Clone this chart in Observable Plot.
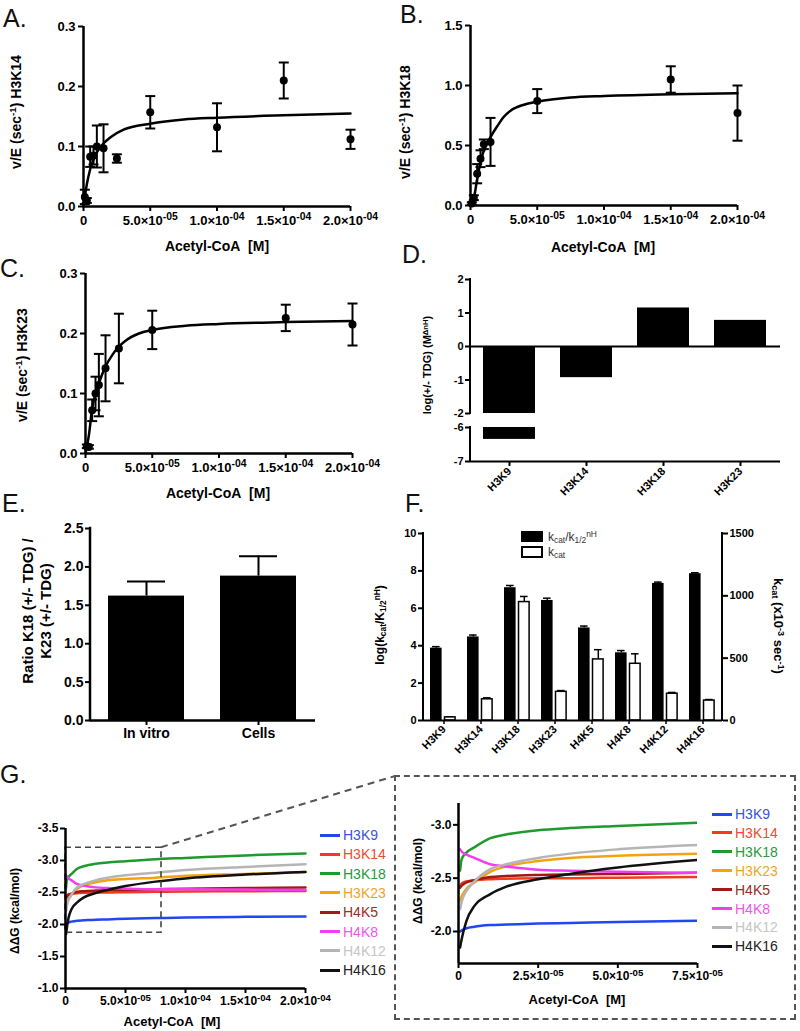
<!DOCTYPE html>
<html><head><meta charset="utf-8">
<script src="https://cdn.jsdelivr.net/npm/d3@7"></script>
<script src="https://cdn.jsdelivr.net/npm/@observablehq/plot@0.6"></script>
<style>
body{margin:0;background:#fff;font-family:'Liberation Sans',Arial,sans-serif;}
#root{position:relative;width:800px;height:1031px;overflow:hidden;background:#fff;}
.lbl{position:absolute;white-space:nowrap;font-weight:bold;color:#000;line-height:1.2;}
.lbl sup{font-size:0.7em;vertical-align:0.5em;line-height:0;}
.lbl sub{font-size:0.7em;vertical-align:-0.25em;line-height:0;}
.let{position:absolute;font-size:25px;line-height:25px;color:#111;font-weight:normal;}
</style></head><body><div id="root"></div>
<script>
// ---------- DATA ----------
// Panel A: H3K14
const aX = [1e-6, 2.5e-6, 5e-6, 7.5e-6, 1e-5, 1.5e-5, 2.5e-5, 5e-5, 1e-4, 1.5e-4, 2e-4];
const aV = [0.016, 0.01, 0.083, 0.085, 0.1, 0.097, 0.08, 0.157, 0.132, 0.21, 0.112];
const aE = [0.012, 0.004, 0.017, 0.015, 0.035, 0.04, 0.007, 0.027, 0.04, 0.03, 0.016];
const aFitX = [0, 2.5e-6, 5e-6, 1e-5, 1.5e-5, 2e-5, 3e-5, 5e-5, 7.5e-5, 1e-4, 1.5e-4, 2e-4];
const aFitV = [0, 0.037, 0.062, 0.09, 0.105, 0.115, 0.128, 0.138, 0.145, 0.148, 0.152, 0.155];
// Panel B: H3K18
const bX = [1e-6, 2.5e-6, 5e-6, 7.5e-6, 1e-5, 1.5e-5, 5e-5, 1.5e-4, 2e-4];
const bV = [0.017, 0.065, 0.265, 0.39, 0.51, 0.53, 0.87, 1.05, 0.77];
const bE = [0.01, 0.02, 0.08, 0.07, 0.04, 0.2, 0.1, 0.11, 0.23];
const bFitX = [0, 2.5e-6, 5e-6, 7.5e-6, 1e-5, 1.5e-5, 2e-5, 2.5e-5, 3e-5, 4e-5, 5e-5, 7.5e-5, 1e-4, 1.5e-4, 2e-4];
const bFitV = [0, 0.06, 0.22, 0.36, 0.46, 0.57, 0.66, 0.74, 0.79, 0.84, 0.865, 0.9, 0.913, 0.928, 0.935];
// Panel C: H3K23
const cX = [1e-6, 2.5e-6, 5e-6, 7.5e-6, 1e-5, 1.5e-5, 2.5e-5, 5e-5, 1.5e-4, 2e-4];
const cV = [0.012, 0.011, 0.072, 0.1, 0.114, 0.142, 0.175, 0.206, 0.226, 0.215];
const cE = [0.003, 0.003, 0.018, 0.028, 0.052, 0.055, 0.058, 0.032, 0.022, 0.035];
const cFitX = [0, 2.5e-6, 5e-6, 7.5e-6, 1e-5, 1.5e-5, 2e-5, 2.5e-5, 3e-5, 4e-5, 5e-5, 7.5e-5, 1e-4, 1.5e-4, 2e-4];
const cFitV = [0, 0.03, 0.075, 0.1, 0.117, 0.145, 0.164, 0.178, 0.188, 0.2, 0.206, 0.213, 0.216, 0.219, 0.221];
// Panel D
const dCats = ["H3K9", "H3K14", "H3K18", "H3K23"];
const dVals = [-6.35, -0.93, 1.15, 0.78];
// Panel E
const eCats = ["In vitro", "Cells"];
const eVals = [1.62, 1.88];
const eErr = [0.19, 0.26];
// Panel F
const fCats = ["H3K9", "H3K14", "H3K18", "H3K23", "H4K5", "H4K8", "H4K12", "H4K16"];
const fLogK = [3.87, 4.47, 7.1, 6.42, 4.95, 3.62, 7.33, 7.85];
const fLogKErr = [0.08, 0.1, 0.12, 0.12, 0.1, 0.12, 0.07, 0.05];
const fKcat = [25, 170, 950, 230, 490, 455, 215, 160];
const fKcatErr = [5, 12, 45, 10, 78, 80, 10, 8];
// Panel G
const gX = [5e-7, 1e-6, 2.5e-6, 5e-6, 1e-5, 1.5e-5, 2.5e-5, 3.5e-5, 5e-5, 7.5e-5, 1e-4, 1.5e-4, 2e-4];
const gNames = ["H3K9", "H3K14", "H3K18", "H3K23", "H4K5", "H4K8", "H4K12", "H4K16"];
const gColors = ["#2146f2", "#f23b1e", "#1f9a2f", "#f3a30e", "#a01a16", "#f23ef0", "#b5b5b5", "#111111"];
const gTextColors = ["#3b50e6", "#ef4a33", "#2a9a3a", "#f0a522", "#9c2c27", "#f055ee", "#c6c6c6", "#222222"];
const gH3K9  = [-2.0, -2.01, -2.03, -2.045, -2.06, -2.065, -2.075, -2.08, -2.09, -2.1, -2.11, -2.12, -2.125];
const gH3K14 = [-2.43, -2.45, -2.47, -2.48, -2.49, -2.495, -2.5, -2.5, -2.505, -2.51, -2.515, -2.52, -2.525];
const gH3K18 = [-2.57, -2.68, -2.74, -2.79, -2.875, -2.91, -2.95, -2.97, -2.99, -3.02, -3.04, -3.08, -3.11];
const gH3K23 = [-2.29, -2.33, -2.4, -2.46, -2.56, -2.61, -2.66, -2.69, -2.71, -2.73, -2.76, -2.79, -2.82];
const gH4K5  = [-2.41, -2.43, -2.46, -2.48, -2.51, -2.52, -2.53, -2.535, -2.54, -2.55, -2.56, -2.57, -2.58];
const gH4K8  = [-2.77, -2.75, -2.72, -2.69, -2.63, -2.61, -2.58, -2.57, -2.56, -2.55, -2.55, -2.545, -2.54];
const gH4K12 = [-2.21, -2.28, -2.38, -2.47, -2.585, -2.63, -2.69, -2.73, -2.77, -2.81, -2.85, -2.9, -2.94];
const gH4K16 = [-1.85, -1.93, -2.1, -2.24, -2.35, -2.42, -2.49, -2.54, -2.6, -2.67, -2.72, -2.78, -2.82];
const gSeries = [gH3K9, gH3K14, gH3K18, gH3K23, gH4K5, gH4K8, gH4K12, gH4K16];
const gZoom = [{x1: 0, x2: 8e-5, y1: -1.87, y2: -3.2}];

// ---------- HELPERS ----------
const root = document.getElementById("root");
const NS = "http://www.w3.org/2000/svg";
const base = {fontFamily: "'Liberation Sans', Arial, sans-serif", fontSize: "12px", fontWeight: "bold", background: "transparent", overflow: "visible", color: "black"};
function put(node, left, top) { node.style.position = "absolute"; node.style.left = left + "px"; node.style.top = top + "px"; node.style.maxWidth = "none"; root.append(node); return node; }
function sci(d) { if (d === 0) return "0"; const e = Math.floor(Math.log10(d) + 1e-9); const m = d / Math.pow(10, e); return m.toFixed(1) + "×10^" + (e < 0 ? "-" : "+") + String(Math.abs(e)).padStart(2, "0"); }
function supify(svg) {
  svg.querySelectorAll("text").forEach(t => {
    const s = t.textContent; const i = s.indexOf("^"); if (i < 0) return;
    t.textContent = "";
    const a = document.createElementNS(NS, "tspan"); a.textContent = s.slice(0, i);
    const b = document.createElementNS(NS, "tspan"); b.textContent = s.slice(i + 1);
    b.setAttribute("dy", "-0.45em"); b.setAttribute("font-size", "0.8em");
    t.append(a, b);
  });
}
function seg(svg, x1, y1, x2, y2, w) {
  const l = document.createElementNS(NS, "line");
  l.setAttribute("x1", x1); l.setAttribute("y1", y1); l.setAttribute("x2", x2); l.setAttribute("y2", y2);
  l.setAttribute("stroke", "black"); l.setAttribute("stroke-width", w); l.setAttribute("stroke-linecap", "square");
  svg.append(l);
}
function label(html, cx, cy, size, rot = 0, extra = "") {
  const d = document.createElement("div"); d.className = "lbl"; d.innerHTML = html;
  d.style.cssText += `left:${cx}px;top:${cy}px;font-size:${size}px;transform:translate(-50%,-50%) rotate(${rot}deg);${extra}`;
  root.append(d); return d;
}
function letter(t, x, baseline) { const d = document.createElement("div"); d.className = "let"; d.textContent = t; d.style.left = x + "px"; d.style.top = (baseline - 21) + "px"; root.append(d); }
const capSym = {draw(ctx) { ctx.moveTo(-5, 0); ctx.lineTo(5, 0); }};

// ---------- A, B, C ----------
function kinetic(o) {
  const pts = o.x.map((x, i) => ({x, v: o.v[i], e: o.e[i]}));
  const fit = o.fx.map((x, i) => ({x, v: o.fv[i]}));
  const p = Plot.plot({
    width: 400, height: 230, marginLeft: o.mL, marginRight: 400 - o.mL - 267, marginTop: o.mT, marginBottom: 230 - o.mT - 180,
    x: {domain: [0, 2e-4]}, y: {domain: [0, o.ymax]}, style: base,
    marks: [
      Plot.ruleX(pts, {x: "x", y1: d => d.v - d.e, y2: d => d.v + d.e, stroke: "black", strokeWidth: 2}),
      Plot.dot(pts, {x: "x", y: d => d.v + d.e, symbol: capSym, stroke: "black", fill: "none", strokeWidth: 2}),
      Plot.dot(pts, {x: "x", y: d => d.v - d.e, symbol: capSym, stroke: "black", fill: "none", strokeWidth: 2}),
      Plot.line(fit, {x: "x", y: "v", curve: "monotone-x", stroke: "black", strokeWidth: 2.5}),
      Plot.dot(pts, {x: "x", y: "v", r: 4, fill: "black"}),
      Plot.ruleX([0], {strokeWidth: 2.5}), Plot.ruleY([0], {strokeWidth: 2.5}),
      Plot.axisX({ticks: [0, 5e-5, 1e-4, 1.5e-4, 2e-4], tickFormat: sci, tickSize: 5, strokeWidth: 2, tickPadding: 4, fontSize: 13, label: null}),
      Plot.axisY({ticks: o.yt, tickFormat: d => d.toFixed(1), tickSize: 5, strokeWidth: 2, tickPadding: 3, fontSize: 13, label: null})
    ]
  });
  supify(p); put(p, o.left, o.top);
}
kinetic({x: aX, v: aV, e: aE, fx: aFitX, fv: aFitV, ymax: 0.3, yt: [0, 0.1, 0.2, 0.3], mL: 83, mT: 26, left: 0, top: 0});
kinetic({x: bX, v: bV, e: bE, fx: bFitX, fv: bFitV, ymax: 1.5, yt: [0, 0.5, 1.0, 1.5], mL: 70, mT: 25, left: 400, top: 0});
kinetic({x: cX, v: cV, e: cE, fx: cFitX, fv: cFitV, ymax: 0.3, yt: [0, 0.1, 0.2, 0.3], mL: 85, mT: 25, left: 0, top: 248});

// ---------- D ----------
const dData = dCats.map((c, i) => ({c, v: dVals[i]}));
const xD = {domain: dCats, type: "band", paddingInner: 0.32, paddingOuter: 0.16};
const dTop = Plot.plot({
  width: 400, height: 150, marginLeft: 70, marginRight: 20, marginTop: 9, marginBottom: 7,
  x: {...xD, axis: null}, y: {domain: [-2, 2]}, style: base,
  marks: [
    Plot.barY(dData, {x: "c", y: "v", fill: "black", clip: true}),
    Plot.ruleY([0], {strokeWidth: 2}),
    Plot.axisY({ticks: [-2, -1, 0, 1, 2], tickFormat: d => String(d), tickSize: 5, strokeWidth: 2, tickPadding: 2, fontSize: 11, label: null})
  ]
});
seg(dTop, 70, dTop.scale("y").apply(2), 70, dTop.scale("y").apply(-2), 2);
put(dTop, 400, 270);
const dBot = Plot.plot({
  width: 400, height: 90, marginLeft: 70, marginRight: 20, marginTop: 7, marginBottom: 49,
  x: xD, y: {domain: [-7, -6]}, style: base,
  marks: [
    Plot.barY(dData, {x: "c", y: "v", fill: "black", clip: true}),
    Plot.ruleY([-7], {strokeWidth: 2}),
    Plot.axisY({ticks: [-7, -6], tickFormat: d => String(d), tickSize: 5, strokeWidth: 2, tickPadding: 2, fontSize: 11, label: null}),
    Plot.axisX({tickSize: 5, strokeWidth: 2, tickRotate: -45, tickPadding: 3, fontSize: 11, label: null})
  ]
});
seg(dBot, 70, dBot.scale("y").apply(-6), 70, dBot.scale("y").apply(-7), 2);
put(dBot, 400, 420);

// ---------- E ----------
const eData = eCats.map((c, i) => ({c, v: eVals[i], e: eErr[i]}));
const pE = Plot.plot({
  width: 400, height: 250, marginLeft: 90, marginRight: 85, marginTop: 23, marginBottom: 35,
  x: {domain: eCats, type: "band", paddingInner: 0.32, paddingOuter: 0.16}, y: {domain: [0, 2.5]}, style: base,
  marks: [
    Plot.ruleX(eData, {x: "c", y1: "v", y2: d => d.v + d.e, strokeWidth: 2}),
    Plot.tickY(eData, {x: "c", y: d => d.v + d.e, strokeWidth: 2, insetLeft: 19, insetRight: 19}),
    Plot.barY(eData, {x: "c", y: "v", fill: "black"}),
    Plot.ruleY([0], {strokeWidth: 2.5}),
    Plot.axisX({tickSize: 5, strokeWidth: 2, tickPadding: 3, fontSize: 14, label: null}),
    Plot.axisY({ticks: [0, 0.5, 1, 1.5, 2, 2.5], tickFormat: d => d.toFixed(1), tickSize: 5, strokeWidth: 2, tickPadding: 2, fontSize: 14, label: null})
  ]
});
seg(pE, 90, pE.scale("y").apply(2.5), 90, pE.scale("y").apply(0), 2.5);
put(pE, 0, 505);

// ---------- F ----------
const fData = fCats.map((c, i) => ({c, a: fLogK[i], ae: fLogKErr[i], k: fKcat[i], ke: fKcatErr[i]}));
const kRatio = 150; // 10 on the left axis equals 1500 on the right axis
const pF = Plot.plot({
  width: 400, height: 265, marginLeft: 23, marginRight: 78, marginTop: 28, marginBottom: 50,
  x: {domain: fCats, type: "band", padding: 0}, y: {domain: [0, 10]}, style: base,
  marks: [
    Plot.ruleX(fData, {x: "c", y1: "a", y2: d => d.a + d.ae, dx: -7.7, strokeWidth: 1.5}),
    Plot.tickY(fData, {x: "c", y: d => d.a + d.ae, insetLeft: 7, insetRight: 22.4, strokeWidth: 1.5}),
    Plot.barY(fData, {x: "c", y: "a", fill: "black", insetLeft: 5, insetRight: 20.4}),
    Plot.ruleX(fData, {x: "c", y1: d => d.k / kRatio, y2: d => (d.k + d.ke) / kRatio, dx: 6.3, strokeWidth: 1.5}),
    Plot.tickY(fData, {x: "c", y: d => (d.k + d.ke) / kRatio, insetLeft: 21, insetRight: 8.4, strokeWidth: 1.5}),
    Plot.barY(fData, {x: "c", y: d => d.k / kRatio, fill: "white", stroke: "black", strokeWidth: 1.5, insetLeft: 19.5, insetRight: 6.9}),
    Plot.ruleY([0], {strokeWidth: 2}),
    Plot.axisX({tickSize: 4, strokeWidth: 1.5, tickRotate: -45, tickPadding: 3, fontSize: 11, label: null}),
    Plot.axisY({ticks: [0, 2, 4, 6, 8, 10], tickFormat: d => String(d), tickSize: 5, strokeWidth: 2, tickPadding: 2, fontSize: 11, label: null}),
    Plot.axisY({anchor: "right", ticks: [0, 500, 1000, 1500].map(v => v / kRatio), tickFormat: d => String(Math.round(d * kRatio)), tickSize: 5, strokeWidth: 2, tickPadding: 2, fontSize: 11, label: null})
  ]
});
{
  const [xl, xr] = pF.scale("x").range; const Y = pF.scale("y");
  seg(pF, xl, Y.apply(10), xl, Y.apply(0), 2); seg(pF, xr, Y.apply(10), xr, Y.apply(0), 2);
}
put(pF, 400, 505);

// ---------- G ----------
const gData = gSeries.map(s => gX.map((x, i) => ({x, y: s[i]})));
const gAxisX = (ticks) => Plot.axisX({ticks, tickFormat: sci, tickSize: 5, strokeWidth: 2, tickPadding: 3, fontSize: 12, label: null});
const pGL = Plot.plot({
  width: 320, height: 226, marginLeft: 65, marginRight: 15, marginTop: 23, marginBottom: 43,
  x: {domain: [0, 2e-4]}, y: {domain: [-1.0, -3.5]}, style: base,
  marks: [
    ...gData.map((d, j) => Plot.line(d, {x: "x", y: "y", stroke: gColors[j], strokeWidth: 2.5, curve: "monotone-x"})),
    Plot.rect(gZoom, {x1: "x1", x2: "x2", y1: "y1", y2: "y2", fill: "none", stroke: "#444", strokeWidth: 1.6, strokeDasharray: "6,4"}),
    Plot.ruleX([0], {strokeWidth: 2.5}), Plot.ruleY([-1.0], {strokeWidth: 2.5}),
    gAxisX([0, 5e-5, 1e-4, 1.5e-4, 2e-4]),
    Plot.axisY({ticks: [-3.5, -3, -2.5, -2, -1.5, -1], tickFormat: d => d.toFixed(1), tickSize: 5, strokeWidth: 2, tickPadding: 2, fontSize: 12, label: null})
  ]
});
supify(pGL); put(pGL, 0, 805);
const gRight = gData.map(d => d.filter(p => p.x <= 7.5e-5));
const pGR = Plot.plot({
  width: 312, height: 236, marginLeft: 63, marginRight: 10, marginTop: 18, marginBottom: 58,
  x: {domain: [0, 7.5e-5]}, y: {domain: [-1.7, -3.2]}, style: base,
  marks: [
    ...gRight.map((d, j) => Plot.line(d, {x: "x", y: "y", stroke: gColors[j], strokeWidth: 2.5, curve: "monotone-x", clip: true})),
    Plot.ruleX([0], {strokeWidth: 2.5}), Plot.ruleY([-1.7], {strokeWidth: 2.5}),
    gAxisX([0, 2.5e-5, 5e-5, 7.5e-5]),
    Plot.axisY({ticks: [-3, -2.5, -2], tickFormat: d => d.toFixed(1), tickSize: 5, strokeWidth: 2, tickPadding: 2, fontSize: 12, label: null})
  ]
});
supify(pGR); put(pGR, 395, 785);

// zoom box + connector
const box = document.createElement("div");
box.style.cssText = "position:absolute;left:394px;top:775px;width:398px;height:241px;border:2px dashed #555;";
root.append(box);
{
  const cx = pGL.scale("x").apply(gZoom[0].x2), cy = 805 + pGL.scale("y").apply(gZoom[0].y2);
  const ov = document.createElementNS(NS, "svg");
  ov.setAttribute("width", 800); ov.setAttribute("height", 1031);
  ov.style.cssText = "position:absolute;left:0;top:0;pointer-events:none;";
  const l = document.createElementNS(NS, "line");
  l.setAttribute("x1", cx); l.setAttribute("y1", cy); l.setAttribute("x2", 395); l.setAttribute("y2", 776);
  l.setAttribute("stroke", "#555"); l.setAttribute("stroke-width", 2); l.setAttribute("stroke-dasharray", "7,5");
  ov.append(l); root.append(ov);
}
// legends G
function gLegend(x, y0, dy) {
  gNames.forEach((n, i) => {
    const y = y0 + i * dy;
    const ln = document.createElement("div");
    ln.style.cssText = `position:absolute;left:${x}px;top:${y - 1.5}px;width:20px;height:3px;background:${gColors[i]};`;
    root.append(ln);
    const t = document.createElement("div");
    t.textContent = n;
    t.style.cssText = `position:absolute;left:${x + 23}px;top:${y - 9}px;font-size:14px;line-height:18px;color:${gTextColors[i]};white-space:nowrap;`;
    root.append(t);
  });
}
gLegend(320, 835, 19.3);
gLegend(712, 814, 18.9);

// F legend
{
  const b1 = document.createElement("div"); b1.style.cssText = "position:absolute;left:521px;top:531px;width:22px;height:11px;background:#000;"; root.append(b1);
  const b2 = document.createElement("div"); b2.style.cssText = "position:absolute;left:521px;top:546px;width:18px;height:8px;border:2px solid #000;background:#fff;"; root.append(b2);
  label("k<sub>cat</sub>/k<sub>1/2</sub><sup>nH</sup>", 548, 537, 12, 0, "transform:translate(0,-50%);font-weight:normal;color:#333;");
  label("k<sub>cat</sub>", 548, 552, 12, 0, "transform:translate(0,-50%);font-weight:normal;color:#333;");
}

// ---------- TITLES ----------
label("v/E (sec<sup>-1</sup>) H3K14", 16, 112, 14, -90);
label("Acetyl-CoA&nbsp;&nbsp;[M]", 217, 246, 14);
label("v/E (sec<sup>-1</sup>) H3K18", 405, 122, 14, -90);
label("Acetyl-CoA&nbsp;&nbsp;[M]", 603, 247, 14);
label("v/E (sec<sup>-1</sup>) H3K23", 22, 365, 14, -90);
label("Acetyl-CoA&nbsp;&nbsp;[M]", 218, 493, 14);
label("log(+/- TDG) (M<sup>ΔnH</sup>)", 428, 365, 11, -90);
label("Ratio K18 (+/- TDG) /<br>K23 (+/- TDG)", 37, 611, 15, -90, "text-align:center;line-height:18px;");
label("log(k<sub>cat</sub>/K<sub>1/2</sub><sup>nH</sup>)", 380, 625, 12, -90);
label("k<sub>cat</sub> (x10<sup>-3</sup> sec<sup>-1</sup>)", 778, 626, 13, 90);
label("ΔΔG (kcal/mol)", 15, 911, 12, -90);
label("Acetyl-CoA&nbsp;&nbsp;[M]", 172, 1022, 13);
label("ΔΔG (kcal/mol)", 418, 881, 12, -90);
label("Acetyl-CoA&nbsp;&nbsp;[M]", 577, 1000, 13);

// panel letters
letter("A.", 3, 27); letter("B.", 400, 23); letter("C.", 0, 277); letter("D.", 402, 263);
letter("E.", 2, 512); letter("F.", 405, 512); letter("G.", 0, 783);
</script></body></html>
